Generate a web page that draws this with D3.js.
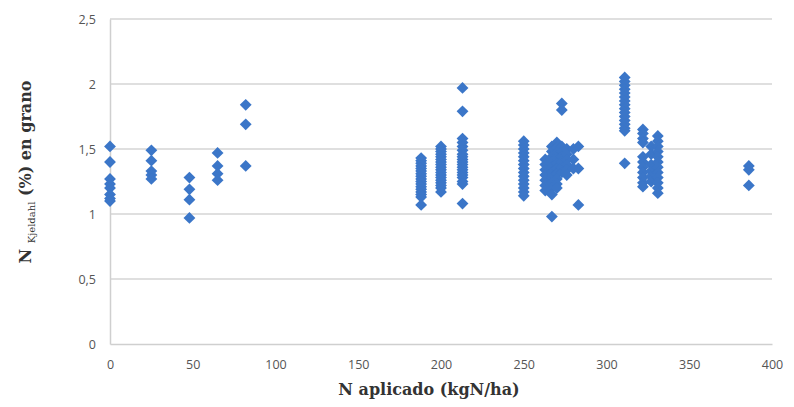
<!DOCTYPE html>
<html>
<head>
<meta charset="utf-8">
<script src="https://cdn.jsdelivr.net/npm/d3@7"></script>
<style>
  body { margin: 0; background: #fff; }
  svg { display: block; }
</style>
</head>
<body>
<div id="chart"></div>
<script>
// dosis de N aplicado (kgN/ha) y N Kjeldahl (%) en grano medido en cada dosis
const dosis = [0, 25, 48, 65, 82, 188, 200, 213, 250, 263, 267, 270, 273, 276, 280, 283, 311, 322, 327, 331, 386];
const nGrano = [
    [1.52, 1.40, 1.27, 1.23, 1.20, 1.15, 1.12, 1.10],
    [1.49, 1.41, 1.33, 1.30, 1.27],
    [1.28, 1.19, 1.11, 0.97],
    [1.47, 1.37, 1.31, 1.26],
    [1.84, 1.69, 1.37],
    [1.43, 1.41, 1.39, 1.37, 1.35, 1.33, 1.31, 1.29, 1.27, 1.25, 1.23, 1.21, 1.19, 1.17, 1.15, 1.13, 1.07],
    [1.52, 1.50, 1.48, 1.46, 1.44, 1.42, 1.40, 1.38, 1.36, 1.34, 1.32, 1.30, 1.28, 1.26, 1.24, 1.22, 1.20, 1.17],
    [1.97, 1.79, 1.58, 1.55, 1.52, 1.49, 1.46, 1.44, 1.42, 1.40, 1.38, 1.36, 1.34, 1.32, 1.30, 1.28, 1.25, 1.23, 1.08],
    [1.56, 1.53, 1.50, 1.47, 1.44, 1.41, 1.38, 1.35, 1.32, 1.29, 1.26, 1.23, 1.20, 1.17, 1.14],
    [1.42, 1.38, 1.34, 1.30, 1.26, 1.22, 1.18],
    [1.52, 1.48, 1.44, 1.40, 1.36, 1.32, 1.28, 1.24, 1.20, 1.15, 0.98],
    [1.55, 1.51, 1.47, 1.43, 1.39, 1.35, 1.31, 1.27, 1.23, 1.20],
    [1.85, 1.80, 1.52, 1.48, 1.44, 1.40, 1.36, 1.32],
    [1.50, 1.46, 1.42, 1.38, 1.34, 1.30],
    [1.50, 1.42, 1.35],
    [1.52, 1.35, 1.07],
    [2.05, 2.02, 1.99, 1.96, 1.93, 1.90, 1.87, 1.84, 1.81, 1.78, 1.75, 1.72, 1.69, 1.66, 1.64, 1.39],
    [1.65, 1.62, 1.58, 1.55, 1.44, 1.40, 1.36, 1.32, 1.28, 1.24, 1.21],
    [1.52, 1.46, 1.38, 1.33, 1.29, 1.25],
    [1.60, 1.56, 1.52, 1.48, 1.44, 1.40, 1.36, 1.32, 1.28, 1.24, 1.20, 1.16],
    [1.37, 1.34, 1.22]
];
const xTicks = [0, 50, 100, 150, 200, 250, 300, 350, 400];
const yTicks = [0, 0.5, 1, 1.5, 2, 2.5];

// puntos (x, y) para dibujar
var puntos = [];
dosis.forEach(function (d, i) {
    nGrano[i].forEach(function (v) { puntos.push({ x: d, y: v }); });
});

var width = 794, height = 407;
var margin = { top: 19, right: 22, bottom: 63, left: 110 };

var svg = d3.select("#chart").append("svg")
    .attr("width", width)
    .attr("height", height);

var x = d3.scaleLinear().domain([0, 400]).range([margin.left, width - margin.right]);
var y = d3.scaleLinear().domain([0, 2.5]).range([height - margin.bottom, margin.top]);

var coma = function (v) { return String(v).replace(".", ","); };

// lineas de division horizontales
svg.append("g")
    .selectAll("line")
    .data(yTicks.filter(function (d) { return d > 0; }))
    .enter().append("line")
    .attr("x1", x(0)).attr("x2", x(400))
    .attr("y1", function (d) { return y(d); })
    .attr("y2", function (d) { return y(d); })
    .style("stroke", "#d4d4d4")
    .style("stroke-width", 1.5);

// eje Y
var yAxis = svg.append("g")
    .attr("transform", "translate(" + x(0) + ",0)")
    .call(d3.axisLeft(y).tickValues(yTicks).tickSize(0).tickPadding(14).tickFormat(coma));

// eje X
var xAxis = svg.append("g")
    .attr("transform", "translate(0," + y(0) + ")")
    .call(d3.axisBottom(x).tickValues(xTicks).tickSize(0).tickPadding(16));

[xAxis, yAxis].forEach(function (a) {
    a.select(".domain").style("stroke", "#cfcfcf").style("stroke-width", 1.5);
    a.selectAll("text")
        .style("font-family", "'Open Sans', sans-serif")
        .style("font-size", "12.5px")
        .style("fill", "#555");
});

// marcadores en forma de rombo
var rombo = d3.symbol().type(d3.symbolSquare).size(70);
svg.append("g")
    .selectAll("path")
    .data(puntos)
    .enter().append("path")
    .attr("d", rombo)
    .attr("transform", function (d) { return "translate(" + x(d.x) + "," + y(d.y) + ") rotate(45)"; })
    .style("fill", "#3b76c8");

// titulo eje X
svg.append("text")
    .attr("x", 429)
    .attr("y", 395)
    .style("text-anchor", "middle")
    .style("font-family", "'DejaVu Serif', serif")
    .style("font-weight", "bold")
    .style("font-size", "16px")
    .style("fill", "#333")
    .text("N aplicado (kgN/ha)");

// titulo eje Y con subindice
var yTitle = svg.append("text")
    .attr("transform", "translate(31,172) rotate(-90)")
    .style("text-anchor", "middle")
    .style("font-family", "'DejaVu Serif', serif")
    .style("font-weight", "bold")
    .style("font-size", "16px")
    .style("fill", "#333");
yTitle.append("tspan").text("N ");
yTitle.append("tspan").attr("dy", 4).style("font-size", "10px").style("font-weight", "normal").text("Kjeldahl");
yTitle.append("tspan").attr("dy", -4).text(" (%) en grano");
</script>
</body>
</html>
